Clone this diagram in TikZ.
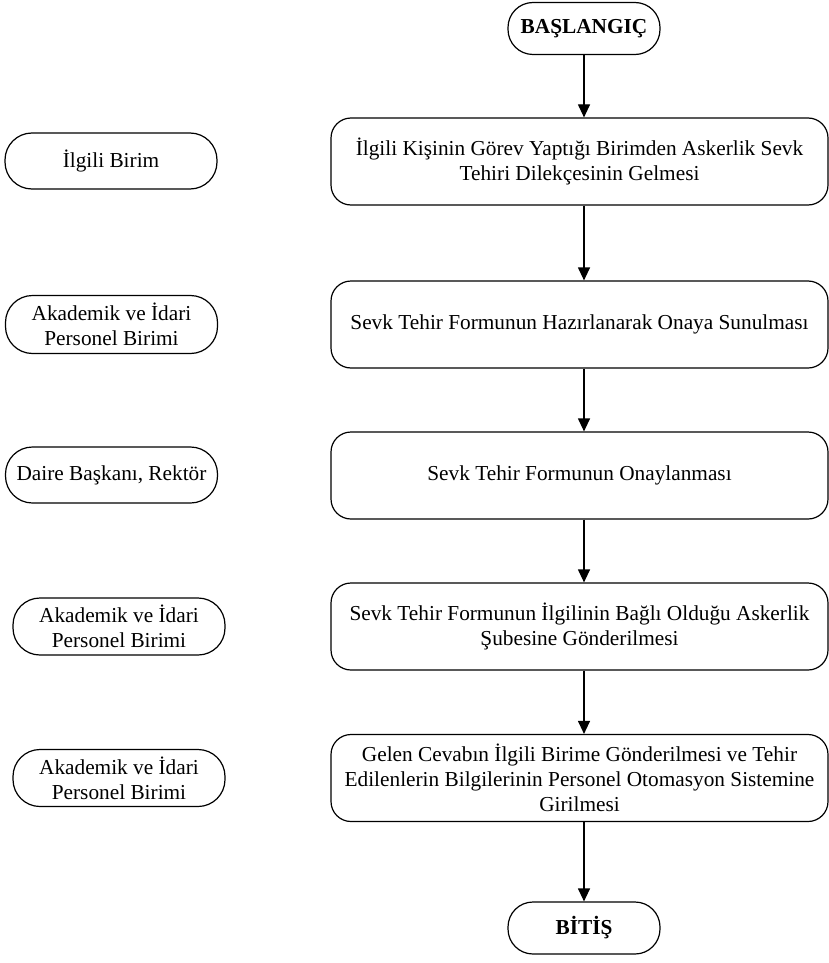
\documentclass[tikz,border=0pt]{standalone}
\usepackage{fontspec}
\setmainfont{Liberation Serif}
\usetikzlibrary{arrows.meta}
\begin{document}
\begin{tikzpicture}[x=1pt,y=-1pt,
  every node/.style={font=\fontsize{21.3}{25}\selectfont, line width=1.2pt, inner sep=0pt, align=center},
  proc/.style={draw, rounded corners=20pt, minimum width=497pt, minimum height=87pt},
  term/.style={draw, rounded corners=25pt, minimum width=152pt, minimum height=52pt, font=\fontsize{21.3}{25}\selectfont\bfseries},
  role/.style={draw, rounded corners=27pt, minimum width=212pt, minimum height=56pt},
  arr/.style={line width=1.2pt, -{Triangle[width=12pt,length=13pt]}}]
\useasboundingbox (0,0) rectangle (829,963);

\node[term] (start) at (584,28.5) {BAŞLANGIÇ};
\node[proc] (b1) at (579.5,161.5) {İlgili Kişinin Görev Yaptığı Birimden Askerlik Sevk\\Tehiri Dilekçesinin Gelmesi};
\node[proc] (b2) at (579.5,324.5) {Sevk Tehir Formunun Hazırlanarak Onaya Sunulması};
\node[proc] (b3) at (579.5,475.5) {Sevk Tehir Formunun Onaylanması};
\node[proc] (b4) at (579.5,626.5) {Sevk Tehir Formunun İlgilinin Bağlı Olduğu Askerlik\\Şubesine Gönderilmesi};
\node[proc] (b5) at (579.5,778) {Gelen Cevabın İlgili Birime Gönderilmesi ve Tehir\\Edilenlerin Bilgilerinin Personel Otomasyon Sistemine\\Girilmesi};
\node[term] (end) at (584,928) {BİTİŞ};

\node[role] (r1) at (111,161) {İlgili Birim};
\node[role, minimum height=58pt] (r2) at (111.5,324.5) {Akademik ve İdari\\Personel Birimi};
\node[role] (r3) at (111.5,475) {Daire Başkanı, Rektör};
\node[role, minimum height=57pt] (r4) at (119,626.5) {Akademik ve İdari\\Personel Birimi};
\node[role, minimum height=57pt] (r5) at (119,778) {Akademik ve İdari\\Personel Birimi};

\draw[arr] (start.south) -- (start.south |- b1.north);
\draw[arr] (b1.south -| start.south) -- (b2.north -| start.south);
\draw[arr] (b2.south -| start.south) -- (b3.north -| start.south);
\draw[arr] (b3.south -| start.south) -- (b4.north -| start.south);
\draw[arr] (b4.south -| start.south) -- (b5.north -| start.south);
\draw[arr] (b5.south -| start.south) -- (end.north);
\end{tikzpicture}
\end{document}
